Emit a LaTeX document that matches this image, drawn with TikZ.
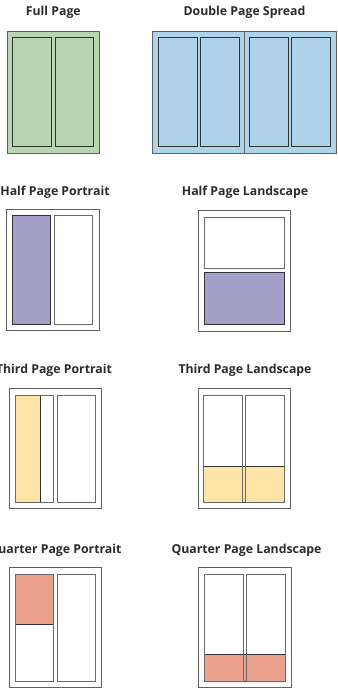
\documentclass[tikz,border=0pt]{standalone}
\usepackage{fontspec}
\setmainfont{Open Sans}
\definecolor{TitleText}{HTML}{2B2B2B}
\definecolor{PageLine}{HTML}{606060}
\definecolor{ColLine}{HTML}{6A6A6A}
\definecolor{AdLine}{HTML}{333333}
\definecolor{FullGreen}{HTML}{B8D7B1}
\definecolor{SpreadBlue}{HTML}{AFD3E8}
\definecolor{HalfPurple}{HTML}{A39FC9}
\definecolor{ThirdYellow}{HTML}{FCE3A6}
\definecolor{QuarterSalmon}{HTML}{EAA28E}

\begin{document}
\begin{tikzpicture}[x=1pt,y=-1pt,every node/.style={font=\bfseries\fontsize{12.3}{14}\selectfont,text=TitleText},
  page/.style={draw=PageLine,line width=1pt,fill=white}, col/.style={draw=ColLine,line width=1pt}, ad/.style={draw=AdLine,line width=1pt}]
\useasboundingbox (0,0) rectangle (337,690);
% full page and spread
\node (full) at (53.3,12){Full Page}; \node (spread) at (244.5,12){Double Page Spread};
\draw[page,fill=FullGreen] (7.3,31.7) rectangle (99.3,153.3);
\foreach \a/\b in {12.7/51.7,55/93.3} \draw[ad] (\a,37.7) rectangle (\b,146.7);
\draw[page,fill=SpreadBlue] (152.7,31.7) rectangle (336,153.3); \draw[page] (244.3,31.7)--(244.3,153.3);
\foreach \a/\b in {158.3/197.3,200.7/239.3,249.3/288.3,291.7/330} \draw[ad] (\a,37.7) rectangle (\b,146.7);
% halves
\node (halfP) at (55,192.5){Half Page Portrait}; \node (halfL) at (245,192){Half Page Landscape};
\draw[page] (6.7,209.3) rectangle (99.3,330); \draw[ad,fill=HalfPurple] (12.3,215) rectangle (50.7,324.3); \draw[col] (54.3,215) rectangle (92.7,324.3);
\draw[page] (198.3,210) rectangle (290,331.7); \draw[col] (204.3,217.3) rectangle (284.3,268.7); \draw[ad,fill=HalfPurple] (204.3,272.3) rectangle (284.3,324.3);
% thirds
\node (thirdP) at (54,370){Third Page Portrait}; \node (thirdL) at (245,370){Third Page Landscape};
\draw[page] (9.3,388.3) rectangle (101,508.3); \draw[ad,fill=ThirdYellow] (15,395) rectangle (40,502.3);
\foreach \a/\b in {15/53.3,57.3/95.7} \draw[col] (\a,395) rectangle (\b,502.3);
\draw[page] (198.3,388.3) rectangle (290,508.3); \draw[ad,fill=ThirdYellow] (203.3,466) rectangle (284.3,502.3);
\foreach \a/\b in {203.3/242.3,245.7/284.3} \draw[col] (\a,395) rectangle (\b,502.3);
% quarters
\node (quarterP) at (55,550){Quarter Page Portrait}; \node (quarterL) at (246.5,550){Quarter Page Landscape};
\draw[page] (9.3,567.3) rectangle (101,687.7); \draw[ad,fill=QuarterSalmon] (15,574) rectangle (53.3,624.3);
\foreach \a/\b in {15/53.3,57.3/95.7} \draw[col] (\a,574) rectangle (\b,681.7);
\draw[page] (198.3,567.3) rectangle (291,687.7); \draw[ad,fill=QuarterSalmon] (204.3,654) rectangle (285.7,681.7);
\foreach \a/\b in {204.3/243.3,246.7/285.7} \draw[col] (\a,574) rectangle (\b,681.7);
\end{tikzpicture}
\end{document}
